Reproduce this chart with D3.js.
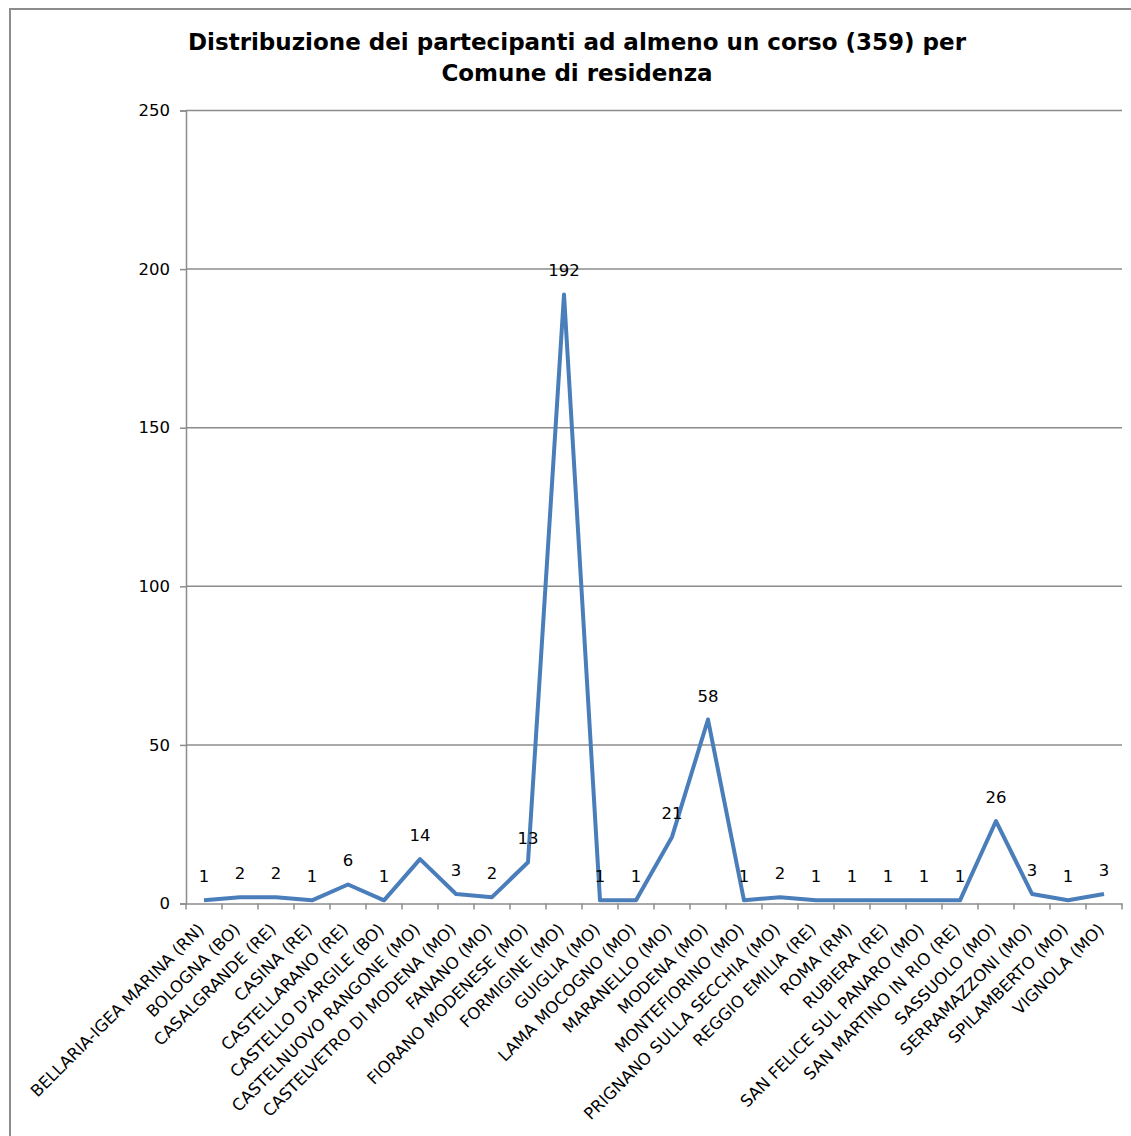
<!DOCTYPE html>
<html>
<head>
<meta charset="utf-8">
<script src="https://cdn.jsdelivr.net/npm/d3@7"></script>
<style>
  body { margin: 0; background: #fff; }
  svg { display: block; }
</style>
</head>
<body>
<svg width="1131" height="1136"></svg>
<script>
// comuni di residenza
var comuni = [
    "BELLARIA-IGEA MARINA (RN)", "BOLOGNA (BO)", "CASALGRANDE (RE)", "CASINA (RE)",
    "CASTELLARANO (RE)", "CASTELLO D'ARGILE (BO)", "CASTELNUOVO RANGONE (MO)",
    "CASTELVETRO DI MODENA (MO)", "FANANO (MO)", "FIORANO MODENESE (MO)",
    "FORMIGINE (MO)", "GUIGLIA (MO)", "LAMA MOCOGNO (MO)", "MARANELLO (MO)",
    "MODENA (MO)", "MONTEFIORINO (MO)", "PRIGNANO SULLA SECCHIA (MO)",
    "REGGIO EMILIA (RE)", "ROMA (RM)", "RUBIERA (RE)", "SAN FELICE SUL PANARO (MO)",
    "SAN MARTINO IN RIO (RE)", "SASSUOLO (MO)", "SERRAMAZZONI (MO)",
    "SPILAMBERTO (MO)", "VIGNOLA (MO)"
];
var partecipanti = [1, 2, 2, 1, 6, 1, 14, 3, 2, 13, 192, 1, 1, 21, 58, 1, 2, 1, 1, 1, 1, 1, 26, 3, 1, 3];
var yTicks = [0, 50, 100, 150, 200, 250];
var titolo = ["Distribuzione dei partecipanti ad almeno un corso (359) per", "Comune di residenza"];

var svg = d3.select('svg');
var font = "'DejaVu Sans', Verdana, sans-serif";

var mLeft = 186, mRight = 1122, mTop = 110.5, mBottom = 903.5;

// cornice esterna
svg.append('rect')
    .attr('x', 10).attr('y', 9)
    .attr('width', 1140).attr('height', 1150)
    .style('fill', 'none')
    .style('stroke', '#8c8c8c')
    .style('stroke-width', 2);

var x = d3.scaleBand().domain(comuni).range([mLeft, mRight]);
var y = d3.scaleLinear().domain([0, 250]).range([mBottom, mTop]);

// titolo
svg.append('text')
    .attr('x', 577).attr('y', 50)
    .attr('text-anchor', 'middle')
    .style('font-family', font)
    .style('font-weight', 'bold')
    .style('font-size', '23px')
    .selectAll('tspan')
    .data(titolo)
    .enter().append('tspan')
    .attr('x', 577)
    .attr('dy', function (d, i) { return i ? 31 : 0; })
    .text(function (d) { return d; });

// griglia
svg.append('g')
    .selectAll('line')
    .data(yTicks.slice(1))
    .enter().append('line')
    .attr('x1', mLeft).attr('x2', mRight)
    .attr('y1', function (d) { return y(d); })
    .attr('y2', function (d) { return y(d); })
    .style('stroke', '#8c8c8c')
    .style('stroke-width', 1.5);

// asse y
var yAxis = svg.append('g')
    .attr('transform', 'translate(' + mLeft + ',0)')
    .call(d3.axisLeft(y).tickValues(yTicks).tickSize(6).tickPadding(10));
yAxis.selectAll('path, line').style('stroke', '#8c8c8c').style('stroke-width', 1.5);
yAxis.selectAll('text')
    .style('font-family', font)
    .style('font-size', '16.5px')
    .style('fill', '#000');

// asse x
var xAxis = svg.append('g')
    .attr('transform', 'translate(0,' + mBottom + ')')
    .call(d3.axisBottom(x).tickSize(0).tickSizeOuter(0));
xAxis.select('.domain').style('stroke', '#8c8c8c').style('stroke-width', 1.5);
xAxis.selectAll('.tick line').remove();
xAxis.selectAll('.tick text')
    .attr('text-anchor', 'end')
    .attr('x', 0).attr('y', 0).attr('dy', 0)
    .attr('transform', 'translate(1,27) rotate(-45)')
    .style('font-family', font)
    .style('font-size', '16.5px')
    .style('fill', '#000');

// tacche tra le categorie
xAxis.append('g')
    .selectAll('line')
    .data(comuni.concat(['__fine']))
    .enter().append('line')
    .attr('x1', function (d, i) { return mLeft + i * x.step(); })
    .attr('x2', function (d, i) { return mLeft + i * x.step(); })
    .attr('y1', 0).attr('y2', 6)
    .style('stroke', '#8c8c8c')
    .style('stroke-width', 1.5);

// linea
var cx = function (d, i) { return x(comuni[i]) + x.bandwidth() / 2; };
var line = d3.line()
    .x(cx)
    .y(function (d) { return y(d); });

svg.append('path')
    .datum(partecipanti)
    .attr('d', line)
    .style('fill', 'none')
    .style('stroke', '#4a7ebb')
    .style('stroke-width', 4)
    .style('stroke-linejoin', 'round');

// etichette valori
svg.append('g')
    .selectAll('text')
    .data(partecipanti)
    .enter().append('text')
    .attr('x', cx)
    .attr('y', function (d) { return y(d) - 18; })
    .attr('text-anchor', 'middle')
    .style('font-family', font)
    .style('font-size', '16.5px')
    .text(function (d) { return d; });
</script>
</body>
</html>
